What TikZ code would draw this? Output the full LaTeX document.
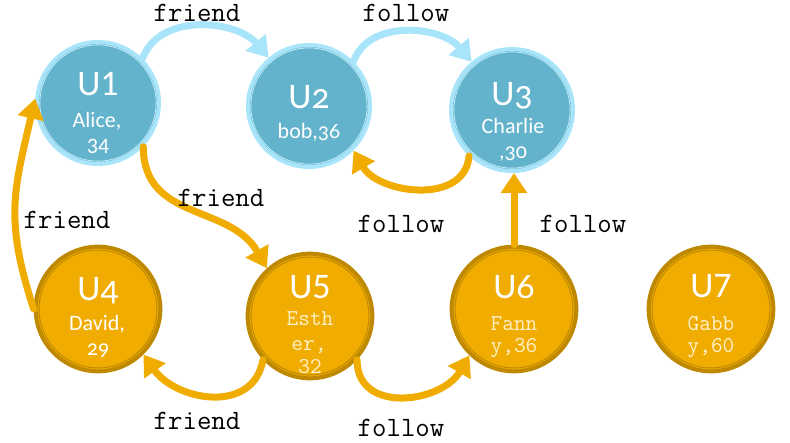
\documentclass[tikz,border=0pt]{standalone}
\usepackage{fontspec}
\setmainfont{Carlito}
\newfontfamily\oldnumfont[Numbers=OldStyle]{Carlito}
\usetikzlibrary{arrows.meta}

\definecolor{bluefill}{HTML}{62B3CB}
\definecolor{bluering}{HTML}{A9E5FA}
\definecolor{goldfill}{HTML}{F0AC00}
\definecolor{goldring}{HTML}{BE8900}
\definecolor{cream}{HTML}{FFF1C8}

\tikzset{
  usernode/.style={circle, inner sep=0pt, line width=3pt},
  bluenode/.style={usernode, fill=bluefill, draw=bluering, minimum size=91.5pt,
    path picture={\draw[bluering!70!white, line width=0.6pt]
      (path picture bounding box.center) circle[radius=43.6pt];}},
  goldnode/.style={usernode, fill=goldfill, draw=goldring, minimum size=93.5pt,
    path picture={\draw[goldring, line width=0.7pt]
      (path picture bounding box.center) circle[radius=44.2pt];}},
  title/.style={anchor=base, inner sep=0pt, text=white, font=\fontsize{27}{27}\selectfont},
  oldtitle/.style={title, font=\oldnumfont\fontsize{27}{27}\selectfont},
  sub/.style={anchor=base, inner sep=0pt, text=white, font=\fontsize{16.5}{16.5}\selectfont},
  oldsub/.style={sub, font=\oldnumfont\fontsize{16.5}{16.5}\selectfont},
  codesub/.style={anchor=base, inner sep=0pt, text=cream, font=\ttfamily\fontsize{17}{17}\selectfont},
  edgelabel/.style={inner sep=0pt, text=black, font=\ttfamily\fontsize{21}{21}\selectfont},
  link/.style={line width=5.25pt, line cap=round, -{Triangle[width=19pt,length=15pt]}},
  bluelink/.style={link, draw=bluering},
  goldlink/.style={link, draw=goldfill},
}

\begin{document}
\begin{tikzpicture}[x=0.75pt,y=-0.75pt]
\useasboundingbox (0,0) rectangle (790,443);

% users
\node[bluenode] (u1) at (98,103) {};
\node[bluenode] (u2) at (309,106) {};
\node[bluenode] (u3) at (512,110) {};
\node[goldnode] (u4) at (98,309) {};
\node[goldnode] (u5) at (310,316) {};
\node[goldnode] (u6) at (514,309) {};
\node[goldnode] (u7) at (711,309) {};

% user captions
\node[title] (u1a) at (98,95) {U1};
\node[sub] (u1b) at (97,127) {Alice,};
\node[sub] (u1c) at (98,153) {34};

\node[oldtitle] (u2a) at (309,108) {U2};
\node[oldsub] (u2b) at (309,138) {bob,36};

\node[oldtitle] (u3a) at (512,105) {U3};
\node[sub] (u3b) at (513,133) {Charlie};
\node[oldsub] (u3c) at (513,158) {,30};

\node[oldtitle] (u4a) at (98,300) {U4};
\node[sub] (u4b) at (97,330) {David,};
\node[oldsub] (u4c) at (98,355) {29};

\node[title] (u5a) at (310,298) {U5};
\node[codesub] (u5b) at (310,325) {Esth};
\node[codesub] (u5c) at (309,350) {er,};
\node[codesub] (u5d) at (310,373) {32};

\node[oldtitle] (u6a) at (514,298) {U6};
\node[codesub] (u6b) at (514,330) {Fann};
\node[codesub] (u6c) at (514,352) {y,36};

\node[title] (u7a) at (711,297) {U7};
\node[codesub] (u7b) at (711,330) {Gabb};
\node[codesub] (u7c) at (711,352) {y,60};

% relations
\draw[bluelink] (u1.45) to[out=70,in=130] (u2.130);
\draw[bluelink] (u2.45) to[out=70,in=130] (u3.130);
\draw[goldlink] (u3.227) to[out=-95,in=-60,looseness=1.1] (u2.-45);
\draw[goldlink] (u1.-44) to[out=-90,in=120,looseness=1.1] (u5.132);
\draw[goldlink] (u4.180) to[out=108,in=-103,looseness=1.15] (u1.176);
\draw[goldlink] (u5.-137) to[out=-100,in=-55,looseness=1.2] (u4.-45);
\draw[goldlink] (u5.-43) to[out=-90,in=-120,looseness=1.25] (u6.-134);
\draw[goldlink] (u6.north) -- (u6.north |- u3.south);

% relation labels
\node[edgelabel] (l12) at (197,13) {friend};
\node[edgelabel] (l23) at (406,13) {follow};
\node[edgelabel] (l32) at (401,224) {follow};
\node[edgelabel] (l15) at (221,198) {friend};
\node[edgelabel] (l41) at (67,220) {friend};
\node[edgelabel] (l63) at (583,224) {follow};
\node[edgelabel] (l54) at (197,421) {friend};
\node[edgelabel] (l56) at (401,428) {follow};
\end{tikzpicture}
\end{document}
